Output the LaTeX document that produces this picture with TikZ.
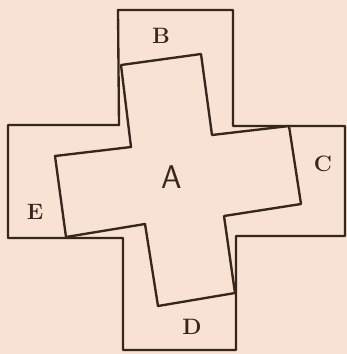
\documentclass[tikz,border=0pt]{standalone}
\usepackage{tikz}
\usetikzlibrary{positioning}
\definecolor{crpaper}{RGB}{247,226,211}
\definecolor{crink}{RGB}{55,38,28}
\tikzstyle{outline} = [draw=crink, line width=2pt, line join=round, line cap=round]
\tikzstyle{letter} = [text=crink, inner sep=0pt, font=\fontsize{19}{19}\selectfont\bfseries]
\tikzstyle{bigletter} = [text=crink, inner sep=0pt, font=\fontsize{28}{28}\selectfont\sffamily]

\begin{document}
\begin{tikzpicture}[x=0.03cm, y=-0.03cm]
% Paper
\fill[crpaper] (0,0) rectangle (347,354);
\useasboundingbox (0,0) rectangle (347,354);

% Outer cross
\draw[outline] (118,10) -- (233,10) -- (233,126) -- (345,126) -- (345,236)
  -- (236,236) -- (236,350) -- (123,350) -- (123,238) -- (8,238)
  -- (8,125) -- (119,125) -- cycle;

% Inner cross A, turned a little
\draw[outline] (121,65) -- (201,54) -- (212,135) -- (289,126) -- (301,204)
  -- (224,216) -- (235,293) -- (158,306) -- (145,224) -- (66,237)
  -- (55,156) -- (131,147) -- cycle;

% Letters of the pieces
\node[bigletter] (pieceA) at (172,177) {A};
\node[letter] (pieceB) at (161,36) {B};
\node[letter] (pieceC) at (323,164) {C};
\node[letter] (pieceD) at (192,327) {D};
\node[letter] (pieceE) at (35,212) {E};
\end{tikzpicture}
\end{document}
